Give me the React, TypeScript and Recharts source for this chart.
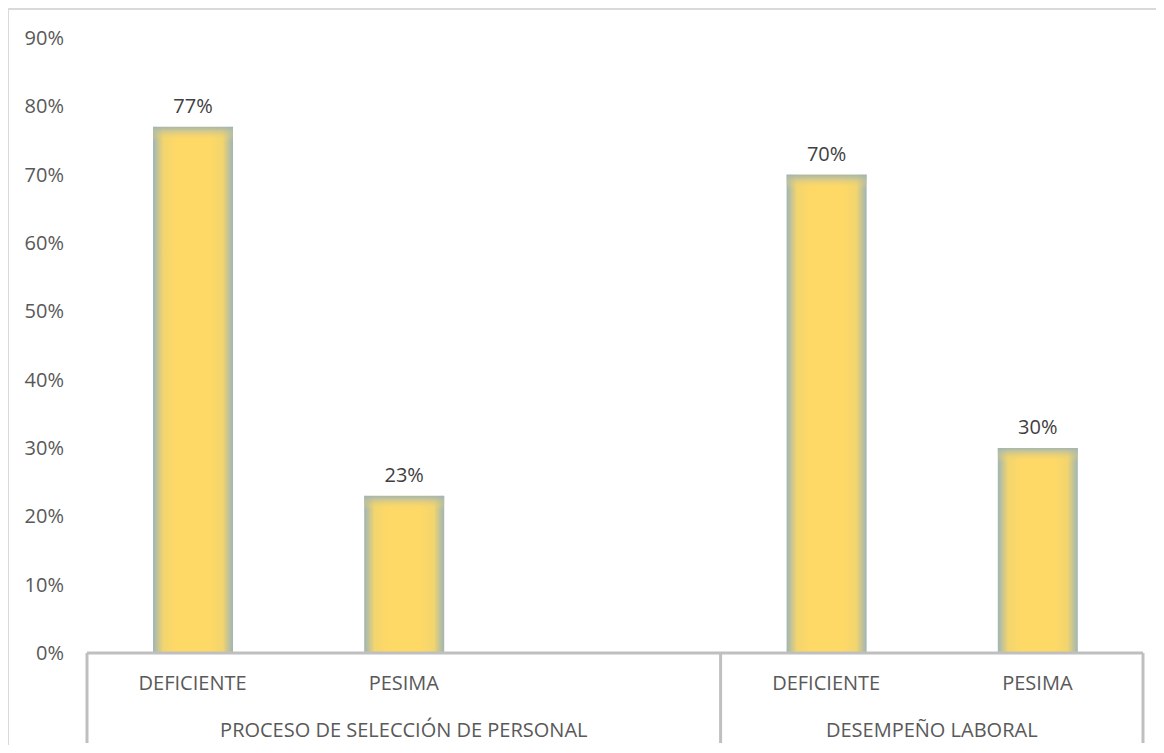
import React from 'react';
import { BarChart, Bar, XAxis, YAxis, LabelList } from 'recharts';

const categories = ['DEFICIENTE', 'PESIMA', '', 'DEFICIENTE', 'PESIMA'];
const values = [0.77, 0.23, null, 0.7, 0.3];
const groupLabels = ['PROCESO DE SELECCIÓN DE PERSONAL', 'DESEMPEÑO LABORAL'];
const groupSizes = [3, 2];
const yTicks = [0, 0.1, 0.2, 0.3, 0.4, 0.5, 0.6, 0.7, 0.8, 0.9];

const data = categories.map((name, i) => ({ name, value: values[i] }));

const FONT = '"Open Sans", sans-serif';
const TEXT = '#595959';
const AXIS = '#bfbfbf';

const pct = (v: any) => (v == null ? '' : `${Math.round(v * 100)}%`);

// where each group starts in the category list
const groupStarts = groupSizes.map((_, g) => groupSizes.slice(0, g).reduce((a, b) => a + b, 0));

function CatTick(props: any) {
  const { x, y, payload, index } = props;
  const half = payload && payload.offset ? payload.offset : 105.6;
  const left = x - half;
  const g = groupStarts.indexOf(index);
  const isLast = index === categories.length - 1;
  return (
    <g>
      <text x={x} y={y + 37} textAnchor="middle" fill={TEXT} fontSize={20} fontFamily={FONT}>
        {payload.value}
      </text>
      {g >= 0 && (
        <>
          <line x1={left} x2={left} y1={y} y2={y + 92} stroke={AXIS} strokeWidth={3} />
          <text
            x={left + half * groupSizes[g]}
            y={y + 84}
            textAnchor="middle"
            fill={TEXT}
            fontSize={20}
            fontFamily={FONT}
          >
            {groupLabels[g]}
          </text>
        </>
      )}
      {isLast && <line x1={x + half} x2={x + half} y1={y} y2={y + 92} stroke={AXIS} strokeWidth={3} />}
    </g>
  );
}

function GlowBar(props: any) {
  const { x, y, width, height } = props;
  if (!height || height <= 0) return null;
  return (
    <g>
      <rect x={x} y={y} width={width} height={height} fill="url(#barH)" />
      <rect x={x} y={y} width={width} height={Math.min(14, height)} fill="url(#barV)" />
    </g>
  );
}

export default function App() {
  return (
    <div
      style={{
        width: 1150,
        height: 735,
        marginLeft: -1,
        borderLeft: '2px solid #d9d9d9',
        borderTop: '2px solid #d9d9d9',
      }}
    >
      <BarChart
        width={1148}
        height={733}
        data={data}
        margin={{ top: 28, right: 14, left: 0, bottom: 0 }}
        barSize={80}
      >
        <defs>
          <linearGradient id="barH" x1="0" y1="0" x2="1" y2="0">
            <stop offset="0" stopColor="#9fb5b6" />
            <stop offset="0.13" stopColor="#f2d56e" />
            <stop offset="0.3" stopColor="#ffd966" />
            <stop offset="0.7" stopColor="#ffd966" />
            <stop offset="0.87" stopColor="#f2d56e" />
            <stop offset="1" stopColor="#9fb5b6" />
          </linearGradient>
          <linearGradient id="barV" x1="0" y1="0" x2="0" y2="1">
            <stop offset="0" stopColor="#9fb5b6" stopOpacity={0.95} />
            <stop offset="1" stopColor="#ffd966" stopOpacity={0} />
          </linearGradient>
        </defs>
        <XAxis
          dataKey="name"
          interval={0}
          height={90}
          tickLine={false}
          tickSize={0}
          tickMargin={0}
          axisLine={{ stroke: AXIS, strokeWidth: 3 }}
          tick={<CatTick />}
        />
        <YAxis
          width={78}
          domain={[0, 0.9]}
          ticks={yTicks}
          tickFormatter={pct}
          axisLine={false}
          tickLine={false}
          tickSize={0}
          tickMargin={23}
          tick={{ fill: TEXT, fontSize: 20, fontFamily: FONT }}
        />
        <Bar dataKey="value" shape={<GlowBar />} isAnimationActive={false}>
          <LabelList
            dataKey="value"
            position="top"
            offset={14}
            formatter={pct}
            fill="#404040"
            fontSize={20}
            fontFamily={FONT}
          />
        </Bar>
      </BarChart>
    </div>
  );
}
